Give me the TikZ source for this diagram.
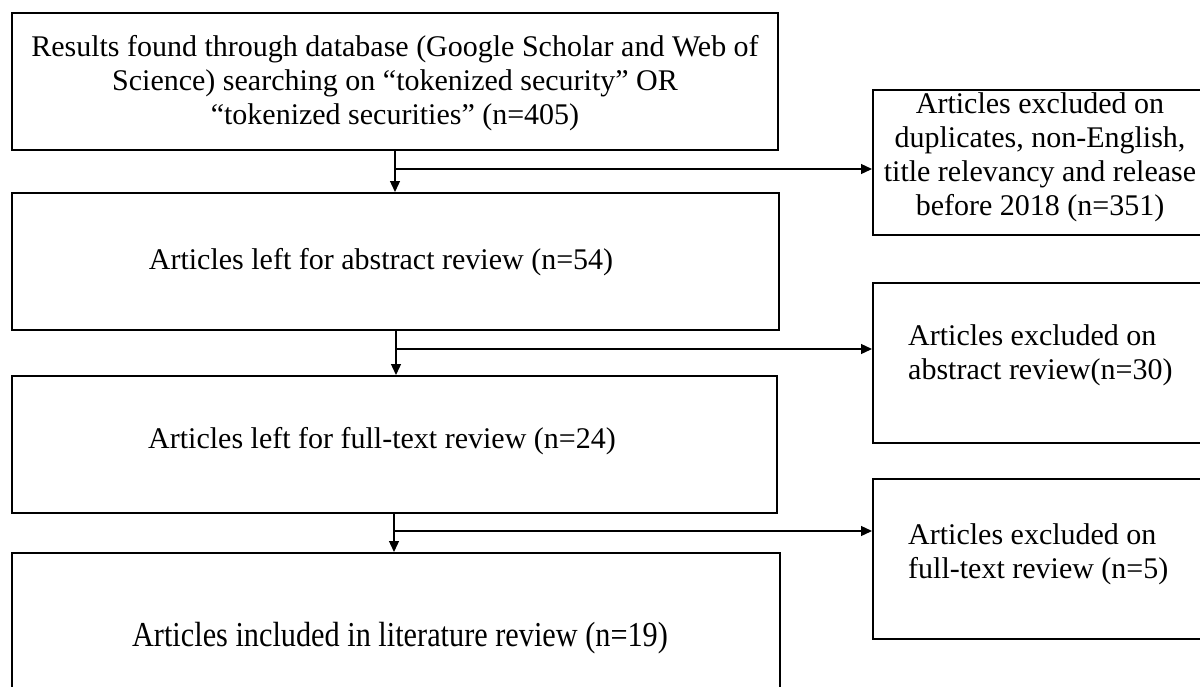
\documentclass[tikz,border=0pt]{standalone}
\usepackage{fontspec}
\setmainfont{Liberation Serif}
\usetikzlibrary{arrows.meta}
\tikzset{
  box/.style={draw, line width=2pt, rectangle, inner sep=0pt},
  label/.style={font=\fontsize{30}{34}\selectfont, align=center, inner sep=0pt},
  flow/.style={line width=1.3pt, -{Triangle[length=11pt,width=10pt]}},
}
\begin{document}
\begin{tikzpicture}[x=1pt,y=-1pt]
\clip (0,0) rectangle (1200,686);
\fill[white] (0,0) rectangle (1200,686);

% main column
\node[box, minimum width=766pt, minimum height=137pt] (b1) at (395,81) {};
\node[label] (t1) at (395,83) {Results found through database (Google Scholar and Web of\\Science) searching on “tokenized security” OR\\“tokenized securities” (n=405)};
\node[box, minimum width=767pt, minimum height=137pt] (b2) at (395.5,261.5) {};
\node[label] (t2) at (381,262) {Articles left for abstract review (n=54)};
\node[box, minimum width=765pt, minimum height=137pt] (b3) at (394.5,444.5) {};
\node[label] (t3) at (382,441) {Articles left for full-text review (n=24)};
\node[box, minimum width=768pt, minimum height=168pt] (b4) at (396,637) {};
\node[label, font=\fontsize{35}{40}\selectfont, xscale=0.865] (t4) at (400,638) {Articles included in literature review (n=19)};

% exclusion column
\node[box, minimum width=334pt, minimum height=145pt] (r1) at (1040,162.5) {};
\node[label] (s1) at (1040,157) {Articles excluded on\\duplicates, non-English,\\title relevancy and release\\before 2018 (n=351)};
\node[box, minimum width=334pt, minimum height=160pt] (r2) at (1040,363) {};
\node[label, anchor=west, align=left] (s2) at (908,355) {Articles excluded on\\abstract review(n=30)};
\node[box, minimum width=334pt, minimum height=160pt] (r3) at (1040,559) {};
\node[label, anchor=west, align=left] (s3) at (908,554) {Articles excluded on\\full-text review (n=5)};

% branch points
\coordinate (j1) at (395,169);
\coordinate (j2) at (396,349);
\coordinate (j3) at (394,531);

\draw[flow] (b1.south -| j1) -- (b2.north -| j1);
\draw[flow] (j1) -- (r1.west |- j1);
\draw[flow] (b2.south -| j2) -- (b3.north -| j2);
\draw[flow] (j2) -- (r2.west |- j2);
\draw[flow] (b3.south -| j3) -- (b4.north -| j3);
\draw[flow] (j3) -- (r3.west |- j3);
\end{tikzpicture}
\end{document}
